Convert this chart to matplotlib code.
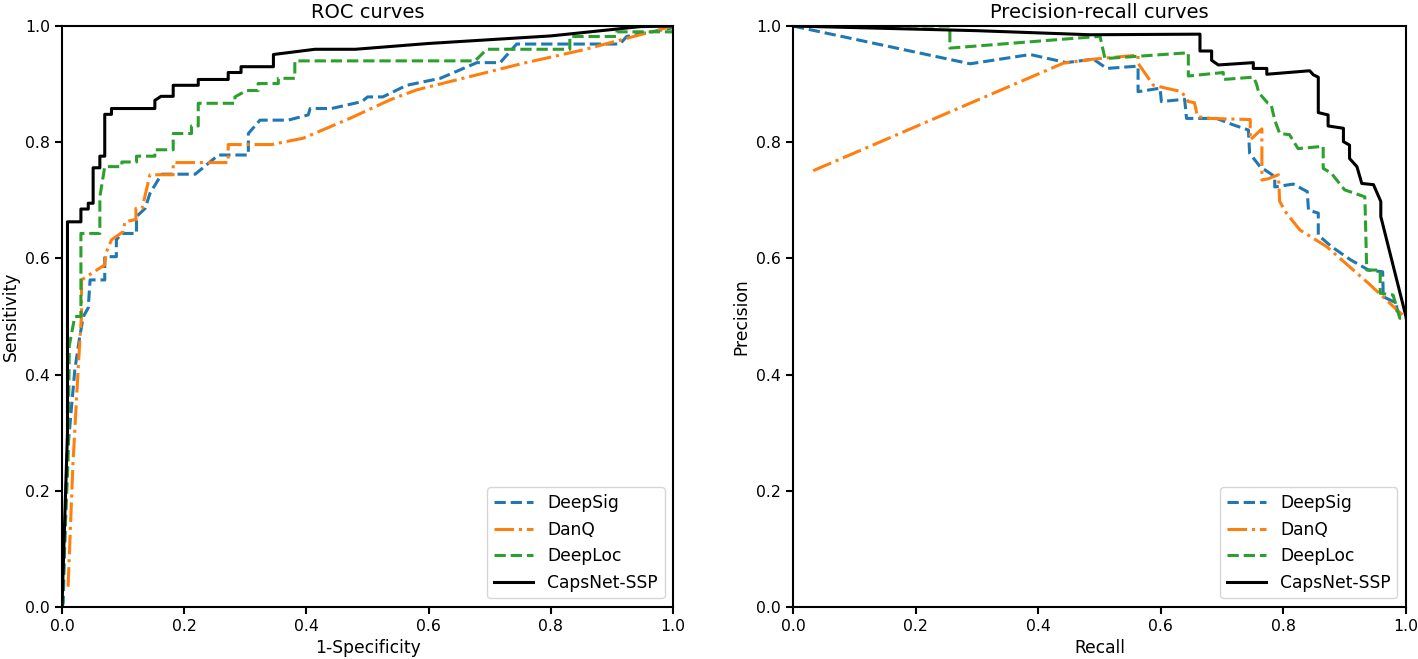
import matplotlib
matplotlib.use("Agg")
import matplotlib.pyplot as plt

# ---------------- ROC data ----------------
roc_deepsig_x = [0.0, 0.002, 0.008, 0.021, 0.029, 0.035, 0.043, 0.046, 0.070, 0.070, 0.089, 0.089, 0.098,
                 0.122, 0.122, 0.136, 0.144, 0.163, 0.218, 0.256, 0.305, 0.305, 0.324, 0.370, 0.403, 0.406,
                 0.441, 0.491, 0.500, 0.525, 0.564, 0.619, 0.679, 0.717, 0.744, 0.913, 0.924, 0.995, 1.0]
roc_deepsig_y = [0.0, 0.007, 0.253, 0.408, 0.465, 0.500, 0.515, 0.563, 0.563, 0.603, 0.603, 0.632, 0.643,
                 0.643, 0.672, 0.686, 0.712, 0.745, 0.745, 0.778, 0.778, 0.815, 0.838, 0.838, 0.847, 0.858,
                 0.858, 0.870, 0.878, 0.878, 0.898, 0.910, 0.937, 0.937, 0.969, 0.969, 0.982, 0.996, 1.0]

roc_danq_x = [0.010, 0.018, 0.027, 0.032, 0.032, 0.070, 0.072, 0.081, 0.100, 0.103, 0.121, 0.121, 0.131,
              0.144, 0.182, 0.182, 0.272, 0.272, 0.343, 0.395, 0.471, 0.537, 0.580, 0.755, 0.853, 1.0]
roc_danq_y = [0.035, 0.247, 0.419, 0.503, 0.563, 0.589, 0.609, 0.632, 0.646, 0.663, 0.667, 0.686, 0.686,
              0.744, 0.744, 0.765, 0.765, 0.796, 0.796, 0.807, 0.841, 0.873, 0.890, 0.936, 0.959, 1.0]

roc_deeploc_x = [0.0, 0.010, 0.012, 0.021, 0.031, 0.031, 0.062, 0.062, 0.070, 0.098, 0.098, 0.122, 0.122,
                 0.152, 0.152, 0.182, 0.182, 0.212, 0.212, 0.223, 0.223, 0.283, 0.283, 0.302, 0.321, 0.321,
                 0.354, 0.354, 0.381, 0.381, 0.676, 0.695, 0.831, 0.831, 0.908, 0.908, 1.0, 1.0]
roc_deeploc_y = [0.0, 0.253, 0.450, 0.500, 0.500, 0.643, 0.643, 0.706, 0.758, 0.758, 0.766, 0.766, 0.776,
                 0.776, 0.787, 0.787, 0.815, 0.815, 0.828, 0.828, 0.867, 0.867, 0.878, 0.889, 0.889, 0.901,
                 0.901, 0.910, 0.910, 0.940, 0.940, 0.960, 0.960, 0.982, 0.982, 0.990, 0.990, 1.0]

roc_caps_x = [0.0, 0.009, 0.009, 0.031, 0.031, 0.043, 0.043, 0.051, 0.051, 0.062, 0.062, 0.070, 0.070,
              0.081, 0.081, 0.152, 0.152, 0.162, 0.182, 0.182, 0.223, 0.223, 0.272, 0.272, 0.293, 0.293,
              0.346, 0.346, 0.414, 0.480, 0.600, 0.800, 0.946, 1.0]
roc_caps_y = [0.0, 0.300, 0.663, 0.663, 0.685, 0.685, 0.695, 0.695, 0.756, 0.756, 0.776, 0.776, 0.848,
              0.848, 0.858, 0.858, 0.872, 0.879, 0.879, 0.898, 0.898, 0.908, 0.908, 0.920, 0.920, 0.930,
              0.930, 0.951, 0.960, 0.960, 0.970, 0.983, 0.999, 1.0]

# ---------------- Precision-recall data ----------------
pr_deepsig_x = [0.0, 0.289, 0.387, 0.446, 0.490, 0.512, 0.563, 0.563, 0.599, 0.601, 0.639, 0.642, 0.691,
                0.718, 0.743, 0.745, 0.762, 0.786, 0.786, 0.816, 0.839, 0.841, 0.857, 0.857, 0.879, 0.909,
                0.939, 0.962, 0.963, 0.985, 0.985, 1.0]
pr_deepsig_y = [1.0, 0.935, 0.951, 0.937, 0.943, 0.927, 0.931, 0.887, 0.893, 0.870, 0.874, 0.841, 0.841,
                0.830, 0.821, 0.781, 0.758, 0.741, 0.723, 0.728, 0.715, 0.683, 0.678, 0.640, 0.620, 0.598,
                0.580, 0.577, 0.534, 0.523, 0.510, 0.497]

pr_danq_x = [0.033, 0.441, 0.490, 0.563, 0.563, 0.588, 0.634, 0.645, 0.655, 0.660, 0.680, 0.746, 0.746,
             0.765, 0.765, 0.775, 0.792, 0.794, 0.805, 0.827, 0.871, 0.939, 1.0]
pr_danq_y = [0.751, 0.936, 0.943, 0.950, 0.936, 0.898, 0.887, 0.870, 0.868, 0.844, 0.841, 0.839, 0.804,
             0.823, 0.735, 0.737, 0.744, 0.698, 0.678, 0.649, 0.620, 0.557, 0.497]

pr_deeploc_x = [0.0, 0.256, 0.256, 0.485, 0.501, 0.509, 0.645, 0.645, 0.702, 0.702, 0.751, 0.756, 0.760,
                0.775, 0.780, 0.786, 0.794, 0.810, 0.824, 0.865, 0.865, 0.878, 0.900, 0.933, 0.936, 0.958,
                0.958, 0.979, 0.990, 1.0]
pr_deeploc_y = [1.0, 1.0, 0.962, 0.981, 0.982, 0.944, 0.954, 0.914, 0.920, 0.908, 0.912, 0.901, 0.885,
                0.867, 0.865, 0.838, 0.815, 0.813, 0.789, 0.793, 0.755, 0.747, 0.718, 0.706, 0.580, 0.580,
                0.540, 0.537, 0.497, 0.497]

pr_caps_x = [0.0, 0.300, 0.485, 0.664, 0.664, 0.683, 0.683, 0.694, 0.751, 0.751, 0.773, 0.773, 0.843,
             0.849, 0.857, 0.857, 0.873, 0.873, 0.898, 0.898, 0.908, 0.908, 0.920, 0.928, 0.947, 0.959,
             0.959, 1.0]
pr_caps_y = [1.0, 0.992, 0.985, 0.986, 0.957, 0.957, 0.941, 0.933, 0.937, 0.927, 0.927, 0.917, 0.923,
             0.916, 0.912, 0.851, 0.847, 0.828, 0.824, 0.801, 0.795, 0.772, 0.758, 0.729, 0.727, 0.698,
             0.672, 0.500]

labels = ["DeepSig", "DanQ", "DeepLoc", "CapsNet-SSP"]
colors = ["#1f77b4", "#ff7f0e", "#2ca02c", "black"]
styles = ["--", "-.", "--", "-"]

plt.rcParams['font.family'] = ['DejaVu Sans']
plt.rcParams['font.size'] = 11

fig = plt.figure(figsize=(14.18, 6.59), dpi=100)
ax1 = fig.add_axes([0.0437, 0.0789, 0.431, 0.8816])
ax2 = fig.add_axes([0.5592, 0.0789, 0.4323, 0.8816])

roc = [(roc_deepsig_x, roc_deepsig_y), (roc_danq_x, roc_danq_y),
       (roc_deeploc_x, roc_deeploc_y), (roc_caps_x, roc_caps_y)]
pr = [(pr_deepsig_x, pr_deepsig_y), (pr_danq_x, pr_danq_y),
      (pr_deeploc_x, pr_deeploc_y), (pr_caps_x, pr_caps_y)]

for (x, y), lab, c, ls in zip(roc, labels, colors, styles):
    ax1.plot(x, y, color=c, linestyle=ls, linewidth=2.2, label=lab)
for (x, y), lab, c, ls in zip(pr, labels, colors, styles):
    ax2.plot(x, y, color=c, linestyle=ls, linewidth=2.2, label=lab)

for ax, title, xl, yl in ((ax1, "ROC curves", "1-Specificity", "Sensitivity"),
                          (ax2, "Precision-recall curves", "Recall", "Precision")):
    ax.set_xlim(0, 1)
    ax.set_ylim(0, 1)
    ax.set_title(title, fontsize=14)
    ax.set_xlabel(xl, fontsize=12.3)
    ax.set_ylabel(yl, fontsize=12.3)
    ax.legend(loc="lower right", fontsize=12.3, handlelength=2.3)
    for sp in ax.spines.values():
        sp.set_linewidth(1.5)
    ax.tick_params(width=1.5, length=5, labelsize=11.3)

fig.savefig("out.png", dpi=100)
